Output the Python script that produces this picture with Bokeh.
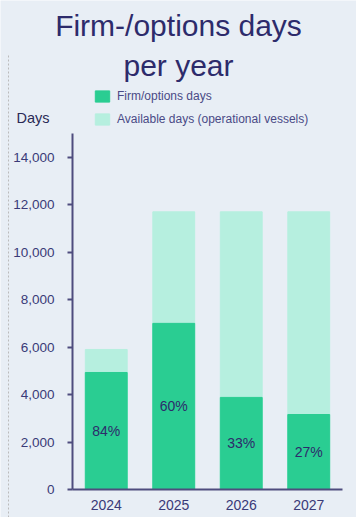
from bokeh.plotting import figure
from bokeh.models import (ColumnDataSource, Label, Legend, LegendItem, Arrow,
                          NumeralTickFormatter, FixedTicker, Range1d)
from bokeh.embed import file_html
from bokeh.resources import INLINE
from bokeh.core.properties import value

years = ["2024", "2025", "2026", "2027"]
firm_days = [4930, 7000, 3880, 3160]
available_days = [5900, 11700, 11700, 11700]
pct_labels = ["84%", "60%", "33%", "27%"]
y_ticks = [0, 2000, 4000, 6000, 8000, 10000, 12000, 14000]

W, H = 356, 517
BG = "#E8EEF5"
NAVY = "#2D2B6B"
AXIS = "#4E4C7E"
TICK_TXT = "#3A3A78"
FIRM = "#2ACD92"
AVAIL = "#B6EFDF"

idx = list(range(len(years)))
src = ColumnDataSource(dict(
    x=idx, firm=firm_days, avail=available_days, pct=pct_labels,
    mid=[f / 2 for f in firm_days],
))

# pixel geometry of the plotting area inside the full-canvas frame
px_per_cat = 67.5
x0_px = 105.75           # centre of first category
y0_px = 489              # pixel row of value 0 (from top)
px_per_unit = 356.0 / 15000

x_range = Range1d(-x0_px / px_per_cat, (W - x0_px) / px_per_cat)
y_range = Range1d(-(H - y0_px) / px_per_unit, y0_px / px_per_unit)

p = figure(width=W, height=H, x_range=x_range, y_range=y_range,
           output_backend="svg", toolbar_location=None,
           min_border=0, min_border_left=0, min_border_right=0,
           min_border_top=0, min_border_bottom=0,
           background_fill_color=BG, border_fill_color=BG,
           outline_line_color=None)
p.grid.visible = False

r_avail = p.vbar(x="x", top="avail", width=0.62, source=src, color=AVAIL)
r_firm = p.vbar(x="x", top="firm", width=0.62, source=src, color=FIRM)

p.text(x="x", y="mid", text="pct", source=src, text_align="center",
       text_baseline="middle", text_color=NAVY, text_font_size="14px",
       text_font=value("Liberation Sans"))

ya = p.yaxis[0]
ya.fixed_location = -0.5
ya.bounds = (0, 15000)
ya.ticker = FixedTicker(ticks=y_ticks)
ya.formatter = NumeralTickFormatter(format="0,0")
ya.axis_line_color = AXIS
ya.axis_line_width = 2
ya.major_tick_line_color = AXIS
ya.major_tick_line_width = 2
ya.major_tick_in = 0
ya.major_tick_out = 5
ya.minor_tick_line_color = None
ya.major_label_text_font = "Liberation Sans"
ya.major_label_text_font_size = "13.5px"
ya.major_label_text_color = TICK_TXT
ya.major_label_standoff = 13

xa = p.xaxis[0]
xa.fixed_location = 0
xa.bounds = (-0.5, len(years) - 0.5)
xa.ticker = FixedTicker(ticks=idx)
xa.major_label_overrides = {i: y for i, y in zip(idx, years)}
xa.axis_line_color = AXIS
xa.axis_line_width = 2
xa.major_tick_line_color = None
xa.major_tick_out = 0
xa.minor_tick_line_color = None
xa.major_label_text_font = "Liberation Sans"
xa.major_label_text_font_size = "14px"
xa.major_label_text_color = TICK_TXT
xa.major_label_standoff = 10

legend = Legend(items=[LegendItem(label="Firm/options days", renderers=[r_firm]),
                       LegendItem(label="Available days (operational vessels)", renderers=[r_avail])],
                location=(93, H - 126), orientation="vertical",
                glyph_width=18, glyph_height=14, label_height=14, spacing=9,
                padding=0, margin=0, label_standoff=6,
                label_text_font="Liberation Sans", label_text_font_size="12px",
                label_text_color="#4A4A86", background_fill_alpha=0,
                border_line_color=None)
p.add_layout(legend, "center")

def screen_label(x, y_top, text, size, color, align="left"):
    return Label(x=x, y=H - y_top, x_units="screen", y_units="screen", text=text,
                 text_align=align, text_baseline="alphabetic",
                 text_font="Liberation Sans", text_font_size=size, text_color=color)

p.add_layout(screen_label(178, 25, "Firm-/options days", "30px", NAVY, "center"))
p.add_layout(screen_label(178, 65, "per year", "30px", NAVY, "center"))
p.add_layout(screen_label(16, 117, "Days", "14.5px", "#2A2A55"))
p.add_layout(Arrow(x_start=8, y_start=H - 55, x_end=8, y_end=0, start_units="screen",
                   end_units="screen", end=None, line_color="#BBBBBB", line_width=1,
                   line_dash="2 2"))

open("out.html", "w").write(file_html(p, INLINE))
